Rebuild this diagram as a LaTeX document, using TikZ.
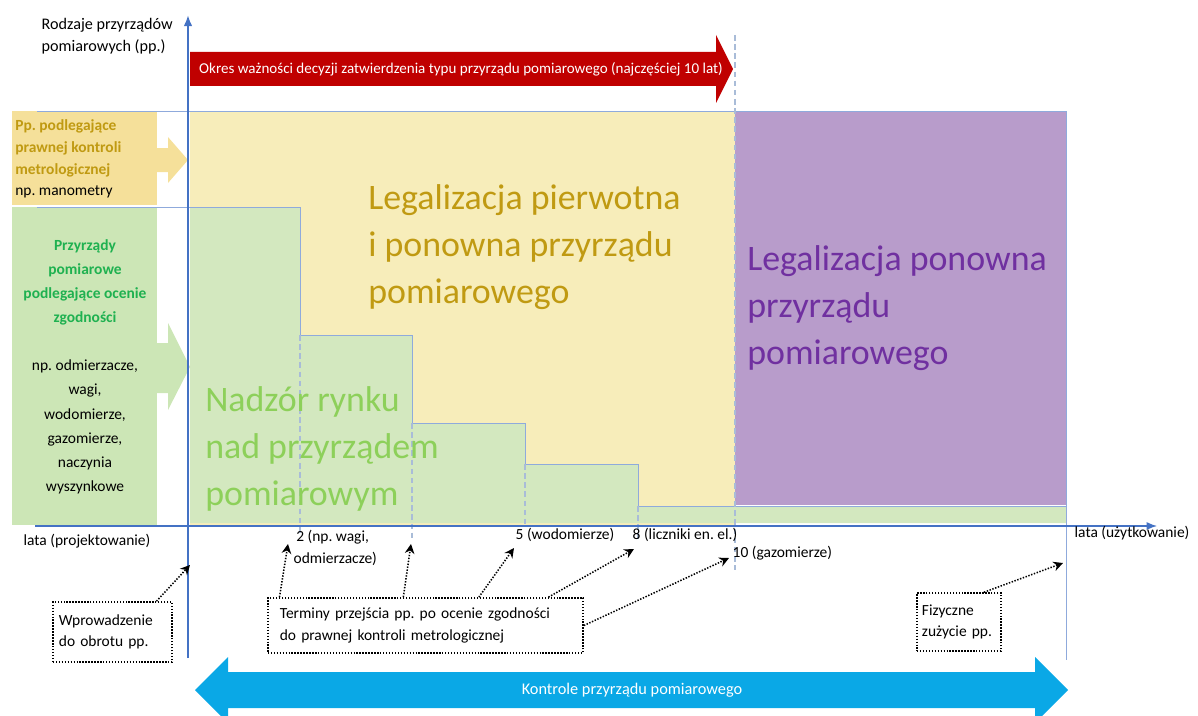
\documentclass[tikz,border=0pt]{standalone}
\usepackage{fontspec}
\setmainfont{Carlito}
\usetikzlibrary{arrows.meta,positioning}
\definecolor{axisblue}{HTML}{4472C4}
\definecolor{frameblue}{HTML}{8FAADC}
\definecolor{guidegrey}{HTML}{A9BCD8}
\definecolor{arrowred}{HTML}{C00000}
\definecolor{arrowblue}{HTML}{0AA8E6}
\definecolor{legalfill}{HTML}{F7EDBA}
\definecolor{repeatfill}{HTML}{B89CCB}
\definecolor{marketfill}{HTML}{D3E8BF}
\definecolor{lawboxfill}{HTML}{F5E09A}
\definecolor{conformfill}{HTML}{CCE6B6}
\definecolor{goldtext}{HTML}{C09A12}
\definecolor{conformtext}{HTML}{1FB150}
\definecolor{markettext}{HTML}{8DD05A}
\definecolor{repeattext}{HTML}{7030A0}

\begin{document}
\frenchspacing
\begin{tikzpicture}[x=0.025cm,y=-0.025cm,
  font=\fontsize{11}{15}\selectfont,
  axis/.style={draw=axisblue,line width=1.5pt},
  frame/.style={draw=frameblue,line width=.7pt},
  guide/.style={draw=guidegrey,line width=.8pt,dash pattern=on 4pt off 2.5pt},
  pointer/.style={-{Stealth[length=2.4mm,width=2.4mm]},line width=1.1pt,
    dash pattern=on 1pt off 1.1pt},
  callout/.style={draw,line width=1.1pt,dash pattern=on 1pt off 1.1pt,
    align=left,inner xsep=0pt},
  lab/.style={inner sep=1pt},
  region/.style={font=\fontsize{25.5}{33.4}\selectfont,align=left,
    anchor=north west,inner sep=0pt},
  sidetext/.style={font=\bfseries\fontsize{11}{15.6}\selectfont,
    anchor=north west,inner sep=0pt}
]
\useasboundingbox (0,0) rectangle (1198,716);

% Coloured areas: legalisation, re-legalisation and the market staircase.
\fill[legalfill] (190,111) rectangle (735,527);
\fill[repeatfill] (735,111) rectangle (1066,505);
\fill[marketfill] (190,207) -| (300,335) -| (412,423) -| (525,464)
  -| (638,506) -| (1066,523) -- (190,523) -- cycle;
\fill[lawboxfill] (12,111) rectangle (157,205);
\fill[conformfill] (12,207) rectangle (157,525);
\fill[lawboxfill] (157,148) -- (168,148) -- (168,137) -- (188,160)
  -- (168,183) -- (168,172) -- (157,172) -- cycle;
\fill[conformfill] (157,343) -- (168,343) -- (168,323) -- (190,367)
  -- (168,410) -- (168,393) -- (157,393) -- cycle;

% Outlines of the areas.
\draw[frame] (37,111) -- (1066,111) -- (1066,660);
\draw[frame] (37,207) -| (300,335) -| (412,423) -| (525,464)
  -| (638,506) -- (1066,506);
\foreach \gx/\gtop/\gbot in {300/335/533,412/423/540,525/464/527,
  638/506/540,735/35/570} {
  \draw[guide] (\gx,\gtop) -- (\gx,\gbot);
}

% Axes.
\draw[axis,line width=.8pt,-{Latex[length=2.6mm,width=2mm]}]
  (35,526) -- (1157,526);
\draw[axis,-{Latex[length=2.8mm,width=2.2mm]}] (188,658) -- (188,15);

% Block arrows.
\fill[arrowred] (190,52) -- (716,52) -- (716,35) -- (733,69) -- (716,103)
  -- (716,86) -- (190,86) -- cycle;
\node[lab,text=white,font=\fontsize{10.7}{12}\selectfont] (okres)
  at (461,69) {Okres ważności decyzji zatwierdzenia typu przyrządu
  pomiarowego (najczęściej 10 lat)};
\fill[arrowblue] (195,690) -- (228,657) -- (228,672) -- (1035,672)
  -- (1035,657) -- (1068,690) -- (1035,723) -- (1035,708) -- (228,708)
  -- (228,723) -- cycle;
\node[lab,text=white,font=\fontsize{11.6}{14}\selectfont] (kontrole)
  at (632,690) {Kontrole przyrządu pomiarowego};

% Texts of the areas.
\node[region,text=goldtext] (legal) at (368,184)
  {Legalizacja pierwotna\\i ponowna przyrządu\\pomiarowego};
\node[region,text=repeattext] (relegal) at (747,245)
  {Legalizacja ponowna\\przyrządu\\pomiarowego};
\node[region,text=markettext] (nadzor) at (205,386)
  {Nadzór rynku\\nad przyrządem\\pomiarowym};

% Kinds of instruments on the left.
\node[lab,align=left,anchor=north west,
  font=\fontsize{11.5}{15.6}\selectfont] (kinds) at (40,17)
  {Rodzaje przyrządów\\pomiarowych (pp.)};
\node[sidetext,align=left,text=goldtext] (lawful) at (15,119)
  {Pp. podlegające\\prawnej kontroli\\metrologicznej\\
  {\mdseries\color{black}np. manometry}};
\node[sidetext,align=center,text=conformtext,anchor=north,
  font=\bfseries\fontsize{11}{17.2}\selectfont] (conform) at (85,239)
  {Przyrządy\\pomiarowe\\podlegające ocenie\\zgodności\\[17pt]
  {\mdseries\color{black}np. odmierzacze,}\\
  {\mdseries\color{black}wagi,}\\{\mdseries\color{black}wodomierze,}\\
  {\mdseries\color{black}gazomierze,}\\{\mdseries\color{black}naczynia}\\
  {\mdseries\color{black}wyszynkowe}};

% Labels along the time axis.
\node[lab,anchor=west] (lata-p) at (22,541) {lata (projektowanie)};
\node[lab,anchor=west] (lata-u) at (1073,533) {lata (użytkowanie)};
\node[lab,align=left,anchor=north west,font=\fontsize{11}{15}\selectfont]
  (term-2) at (292,529) {\,2 (np. wagi,\\odmierzacze)};
\node[lab,anchor=west] (term-5) at (514,535) {5 (wodomierze)};
\node[lab,anchor=west] (term-8) at (631,535) {8 (liczniki en. el.)};
\node[lab,anchor=west] (term-10) at (731,553) {10 (gazomierze)};

% Dotted callouts and their pointers.
\node[callout,minimum width=2.98cm,minimum height=1.5cm,text width=2.68cm]
  (wprow) at (112.5,632) {Wprowadzenie\\do obrotu pp.};
\node[callout,minimum width=7.88cm,minimum height=1.38cm,text width=7.28cm]
  (terminy) at (425.5,625.5)
  {Terminy przejścia pp. po ocenie zgodności\\
  do prawnej kontroli metrologicznej};
\node[callout,minimum width=2.1cm,minimum height=1.45cm,text width=1.85cm]
  (zuzycie) at (959,622) {Fizyczne\\zużycie pp.};
\coordinate (in-market) at (190,565);
\coordinate (end-2) at (288,544);
\coordinate (end-2b) at (411,544);
\coordinate (end-5) at (514,548);
\coordinate (end-8) at (634,549);
\coordinate (end-10) at (729,558);
\coordinate (end-wear) at (1063,563);
\foreach \from/\to in {wprow.35/in-market,terminy.169/end-2,
  terminy.128/end-2b,terminy.28/end-5,terminy.13/end-8,
  terminy.east/end-10,zuzycie.50/end-wear} {
  \draw[pointer] (\from) -- (\to);
}
\end{tikzpicture}
\end{document}
